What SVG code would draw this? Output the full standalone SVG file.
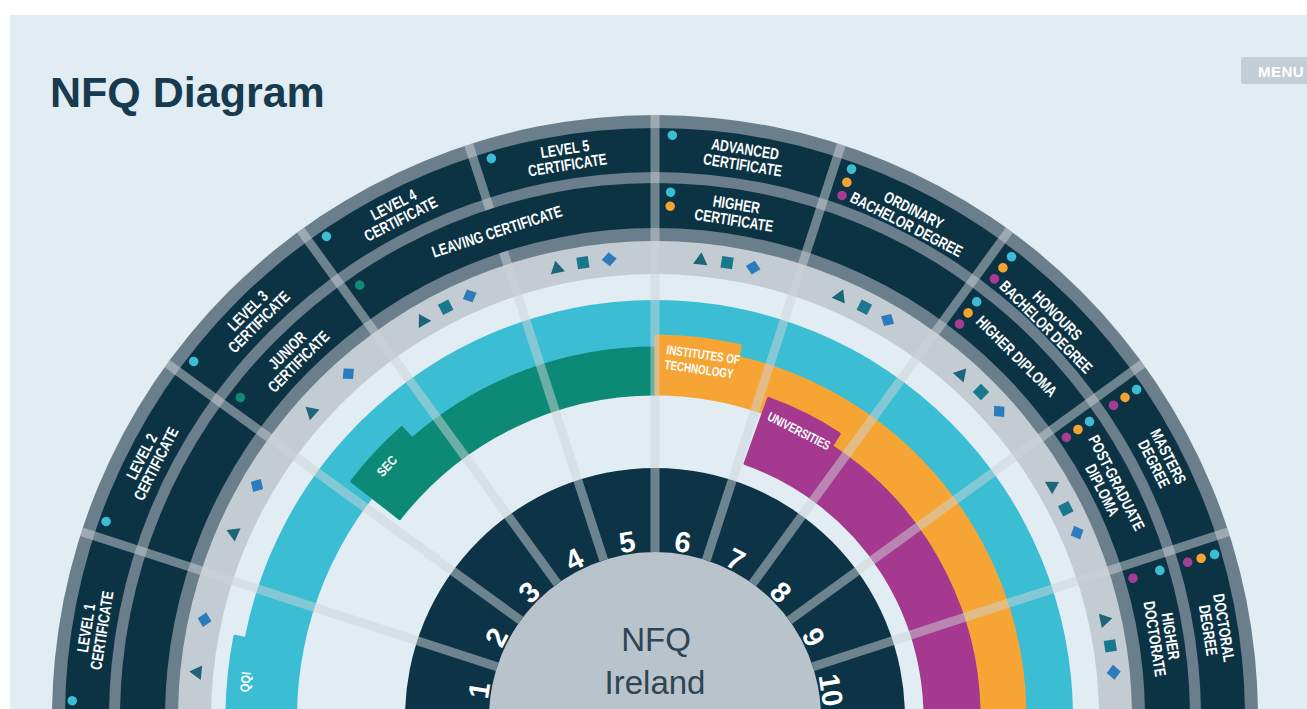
<svg xmlns="http://www.w3.org/2000/svg" width="1307" height="709" viewBox="0 0 1307 709">
<defs>
<style>
.lbl{font-family:"Liberation Sans",Arial,sans-serif;font-weight:700;font-size:16px;fill:#fff;text-anchor:middle}
.num{font-family:"Liberation Sans",Arial,sans-serif;font-weight:700;font-size:29px;fill:#fff;text-anchor:middle}
.tabt{font-family:"Liberation Sans",Arial,sans-serif;font-weight:700;font-size:13px;fill:#fff}
.dv{stroke:rgba(206,211,215,0.5);stroke-width:9;fill:none}
.c{fill:#3dbdd3}.o{fill:#f5a331}.p{fill:#a63c93}.g{fill:#138a75}
.tri{fill:#1b6678}.sq{fill:#19788e}.dia{fill:#2b7bbd}
</style>
<path id="tri" d="M0,-7 L7.2,5.2 L-7.2,5.2 Z"/>
<rect id="sq" x="-5.8" y="-5.8" width="11.6" height="11.6"/>
<path id="dia" d="M0,-7 L7.5,0 L0,7 L-7.5,0 Z"/>
</defs>
<rect width="1307" height="709" fill="#ffffff"/>
<rect x="10" y="15" width="1297" height="694" fill="#e1ecf3"/>
<text x="50" y="107" font-family="Liberation Sans, Arial, sans-serif" font-weight="700" font-size="43" fill="#173a4e">NFQ Diagram</text>
<g id="menu"><rect x="1241" y="57" width="70" height="27" rx="3" fill="#c4ced7"/><text x="1281" y="76.5" font-family="Liberation Sans, Arial, sans-serif" font-weight="700" font-size="15" letter-spacing="0.5" fill="#fff" text-anchor="middle">MENU</text></g>

<g id="rings">
<circle cx="655" cy="718" r="603" fill="#6b7e8c"/>
<circle cx="655" cy="718" r="590" fill="#0c3344"/>
<circle cx="655" cy="718" r="546" fill="#6b7e8c"/>
<circle cx="655" cy="718" r="535" fill="#0c3344"/>
<circle cx="655" cy="718" r="490" fill="#6b7e8c"/>
<circle cx="655" cy="718" r="477" fill="#c3cbd3"/>
<circle cx="655" cy="718" r="444" fill="#e1ecf3"/>
</g>
<g id="qqi">
<circle cx="655" cy="718" r="418" fill="#3bbdd4"/>
<path d="M303.6 649.7 L234.9 636.3 A428 428 0 0 0 233.5 792.3 L302.4 780.2 A358 358 0 0 1 303.6 649.7 Z" fill="#3bbdd4" stroke="#3bbdd4" stroke-width="3" stroke-linejoin="round"/>
<circle cx="655" cy="718" r="358" fill="#e1ecf3"/>
</g>
<g id="sec"><path d="M399.7 518.5 L351.8 481.3 A385 385 0 0 1 401.8 427.7 L412.2 438.8 A370 370 0 0 1 655 348 L655 394 A324 324 0 0 0 399.7 518.5 Z" fill="#0d8a76" stroke="#0d8a76" stroke-width="3" stroke-linejoin="round"/></g>
<g id="institutes"><path d="M656 394 L656 336 A382 382 0 0 1 740.2 345.8 L738.2 357.5 A370 370 0 0 1 1023.6 750.3 L977.8 746.2 A324 324 0 0 0 656 394 Z" fill="#f6a534" stroke="#f6a534" stroke-width="3" stroke-linejoin="round"/></g>
<g id="universities"><path d="M745.1 463.5 L768.5 398.5 A339 339 0 0 1 839.2 433.8 L831.5 446.3 A324 324 0 0 1 977.8 746.2 L924 741.5 A270 270 0 0 0 745.1 463.5 Z" fill="#a4398f" stroke="#a4398f" stroke-width="3" stroke-linejoin="round"/></g>
<circle id="number-ring" cx="655" cy="718" r="250" fill="#0c3446"/>

<g id="connectors">
<line class="dv" x1="821" y1="718" x2="1258" y2="718"/>
<line class="dv" x1="821" y1="718" x2="1258" y2="718" transform="rotate(-18 655 718)"/>
<line class="dv" x1="821" y1="718" x2="1258" y2="718" transform="rotate(-36 655 718)"/>
<line class="dv" x1="821" y1="718" x2="1258" y2="718" transform="rotate(-54 655 718)"/>
<line class="dv" x1="821" y1="718" x2="1258" y2="718" transform="rotate(-72 655 718)"/>
<line class="dv" x1="821" y1="718" x2="1258" y2="718" transform="rotate(-90 655 718)"/>
<line class="dv" x1="821" y1="718" x2="1145" y2="718" transform="rotate(-108 655 718)"/>
<line class="dv" x1="1190" y1="718" x2="1258" y2="718" transform="rotate(-108 655 718)"/>
<line class="dv" x1="821" y1="718" x2="1258" y2="718" transform="rotate(-126 655 718)"/>
<line class="dv" x1="821" y1="718" x2="1258" y2="718" transform="rotate(-144 655 718)"/>
<line class="dv" x1="821" y1="718" x2="1258" y2="718" transform="rotate(-162 655 718)"/>
<line class="dv" x1="821" y1="718" x2="1258" y2="718" transform="rotate(-180 655 718)"/>
</g>

<g id="nfq-ireland">
<circle cx="655" cy="718" r="166" fill="#b9c3cb"/>
<text x="656" y="651" font-family="Liberation Sans, Arial, sans-serif" font-size="33" fill="#2f4553" text-anchor="middle">NFQ</text>
<text x="655" y="694" font-family="Liberation Sans, Arial, sans-serif" font-size="33" fill="#2f4553" text-anchor="middle">Ireland</text>
</g>

<g id="numbers">
<text class="num" x="655" y="550" transform="rotate(-81 655 718)">1</text>
<text class="num" x="655" y="550" transform="rotate(-63 655 718)">2</text>
<text class="num" x="655" y="550" transform="rotate(-45 655 718)">3</text>
<text class="num" x="655" y="550" transform="rotate(-27 655 718)">4</text>
<text class="num" x="655" y="550" transform="rotate(-9 655 718)">5</text>
<text class="num" x="655" y="550" transform="rotate(9 655 718)">6</text>
<text class="num" x="655" y="550" transform="rotate(27 655 718)">7</text>
<text class="num" x="655" y="550" transform="rotate(45 655 718)">8</text>
<text class="num" x="655" y="550" transform="rotate(63 655 718)">9</text>
<text class="num" x="655" y="550" transform="rotate(81 655 718)">10</text>
</g>

<g id="shapes">
<use href="#tri" class="tri" transform="rotate(-84.3 655 718) translate(655 257)"/>
<use href="#dia" class="dia" transform="rotate(-77.7 655 718) translate(655 257)"/>
<use href="#tri" class="tri" transform="rotate(-66.3 655 718) translate(655 257)"/>
<use href="#dia" class="dia" transform="rotate(-59.7 655 718) translate(655 257)"/>
<use href="#tri" class="tri" transform="rotate(-48.3 655 718) translate(655 257)"/>
<use href="#dia" class="dia" transform="rotate(-41.7 655 718) translate(655 257)"/>
<use href="#tri" class="tri" transform="rotate(-30.3 655 718) translate(655 257)"/>
<use href="#sq" class="sq" transform="rotate(-27 655 718) translate(655 257)"/>
<use href="#dia" class="dia" transform="rotate(-23.7 655 718) translate(655 257)"/>
<use href="#tri" class="tri" transform="rotate(-12.3 655 718) translate(655 257)"/>
<use href="#sq" class="sq" transform="rotate(-9 655 718) translate(655 257)"/>
<use href="#dia" class="dia" transform="rotate(-5.7 655 718) translate(655 257)"/>
<use href="#tri" class="tri" transform="rotate(5.7 655 718) translate(655 257)"/>
<use href="#sq" class="sq" transform="rotate(9 655 718) translate(655 257)"/>
<use href="#dia" class="dia" transform="rotate(12.3 655 718) translate(655 257)"/>
<use href="#tri" class="tri" transform="rotate(23.7 655 718) translate(655 257)"/>
<use href="#sq" class="sq" transform="rotate(27 655 718) translate(655 257)"/>
<use href="#dia" class="dia" transform="rotate(30.3 655 718) translate(655 257)"/>
<use href="#tri" class="tri" transform="rotate(41.7 655 718) translate(655 257)"/>
<use href="#sq" class="sq" transform="rotate(45 655 718) translate(655 257)"/>
<use href="#dia" class="dia" transform="rotate(48.3 655 718) translate(655 257)"/>
<use href="#tri" class="tri" transform="rotate(59.7 655 718) translate(655 257)"/>
<use href="#sq" class="sq" transform="rotate(63 655 718) translate(655 257)"/>
<use href="#dia" class="dia" transform="rotate(66.3 655 718) translate(655 257)"/>
<use href="#tri" class="tri" transform="rotate(77.7 655 718) translate(655 257)"/>
<use href="#sq" class="sq" transform="rotate(81 655 718) translate(655 257)"/>
<use href="#dia" class="dia" transform="rotate(84.3 655 718) translate(655 257)"/>
</g>

<g id="level-1-certificate">
<circle class="c" cx="655" cy="135" r="4.8" transform="rotate(-88.3 655 718)"/>
<text class="lbl" transform="rotate(-81 655 718) translate(655 150) scale(0.76 1)"><tspan x="0" y="-2.5">LEVEL 1</tspan><tspan x="0" y="13.5">CERTIFICATE</tspan></text>
</g>
<g id="level-2-certificate">
<circle class="c" cx="655" cy="135" r="4.8" transform="rotate(-70.3 655 718)"/>
<text class="lbl" transform="rotate(-63 655 718) translate(655 150) scale(0.76 1)"><tspan x="0" y="-2.5">LEVEL 2</tspan><tspan x="0" y="13.5">CERTIFICATE</tspan></text>
</g>
<g id="level-3-certificate">
<circle class="c" cx="655" cy="135" r="4.8" transform="rotate(-52.3 655 718)"/>
<text class="lbl" transform="rotate(-45 655 718) translate(655 150) scale(0.76 1)"><tspan x="0" y="-2.5">LEVEL 3</tspan><tspan x="0" y="13.5">CERTIFICATE</tspan></text>
</g>
<g id="junior-certificate">
<circle class="g" cx="655" cy="194" r="4.8" transform="rotate(-52.3 655 718)"/>
<text class="lbl" transform="rotate(-45 655 718) translate(655 206) scale(0.76 1)"><tspan x="0" y="-2.5">JUNIOR</tspan><tspan x="0" y="13.5">CERTIFICATE</tspan></text>
</g>
<g id="level-4-certificate">
<circle class="c" cx="655" cy="135" r="4.8" transform="rotate(-34.3 655 718)"/>
<text class="lbl" transform="rotate(-27 655 718) translate(655 150) scale(0.76 1)"><tspan x="0" y="-2.5">LEVEL 4</tspan><tspan x="0" y="13.5">CERTIFICATE</tspan></text>
</g>
<g id="leaving-certificate">
<circle class="g" cx="655" cy="194" r="4.8" transform="rotate(-34.3 655 718)"/>
<text class="lbl" transform="rotate(-18 655 718) translate(655 206) scale(0.76 1)"><tspan x="0" y="6">LEAVING CERTIFICATE</tspan></text>
</g>
<g id="level-5-certificate">
<circle class="c" cx="655" cy="135" r="4.8" transform="rotate(-16.3 655 718)"/>
<text class="lbl" transform="rotate(-9 655 718) translate(655 150) scale(0.76 1)"><tspan x="0" y="-2.5">LEVEL 5</tspan><tspan x="0" y="13.5">CERTIFICATE</tspan></text>
</g>
<g id="advanced-certificate">
<circle class="c" cx="655" cy="135" r="4.8" transform="rotate(1.7 655 718)"/>
<text class="lbl" transform="rotate(9 655 718) translate(655 150) scale(0.76 1)"><tspan x="0" y="-2.5">ADVANCED</tspan><tspan x="0" y="13.5">CERTIFICATE</tspan></text>
</g>
<g id="higher-certificate">
<circle class="c" cx="655" cy="192" r="4.8" transform="rotate(1.7 655 718)"/>
<circle class="o" cx="655" cy="206" r="4.8" transform="rotate(1.7 655 718)"/>
<text class="lbl" transform="rotate(9 655 718) translate(655 206) scale(0.76 1)"><tspan x="0" y="-2.5">HIGHER</tspan><tspan x="0" y="13.5">CERTIFICATE</tspan></text>
</g>
<g id="ordinary-bachelor-degree">
<circle class="c" cx="655" cy="135" r="4.8" transform="rotate(19.7 655 718)"/>
<circle class="o" cx="655" cy="149" r="4.8" transform="rotate(19.7 655 718)"/>
<circle class="p" cx="655" cy="163" r="4.8" transform="rotate(19.7 655 718)"/>
<text class="lbl" transform="rotate(27 655 718) translate(655 156) scale(0.76 1)"><tspan x="0" y="-2.5">ORDINARY</tspan><tspan x="0" y="13.5">BACHELOR DEGREE</tspan></text>
</g>
<g id="honours-bachelor-degree">
<circle class="c" cx="655" cy="135" r="4.8" transform="rotate(37.7 655 718)"/>
<circle class="o" cx="655" cy="149" r="4.8" transform="rotate(37.7 655 718)"/>
<circle class="p" cx="655" cy="163" r="4.8" transform="rotate(37.7 655 718)"/>
<text class="lbl" transform="rotate(45 655 718) translate(655 157) scale(0.76 1)"><tspan x="0" y="-2.5">HONOURS</tspan><tspan x="0" y="13.5">BACHELOR DEGREE</tspan></text>
</g>
<g id="higher-diploma">
<circle class="c" cx="655" cy="192" r="4.8" transform="rotate(37.7 655 718)"/>
<circle class="o" cx="655" cy="206" r="4.8" transform="rotate(37.7 655 718)"/>
<circle class="p" cx="655" cy="220" r="4.8" transform="rotate(37.7 655 718)"/>
<text class="lbl" transform="rotate(45 655 718) translate(655 206) scale(0.76 1)"><tspan x="0" y="6">HIGHER DIPLOMA</tspan></text>
</g>
<g id="masters-degree">
<circle class="c" cx="655" cy="135" r="4.8" transform="rotate(55.7 655 718)"/>
<circle class="o" cx="655" cy="149" r="4.8" transform="rotate(55.7 655 718)"/>
<circle class="p" cx="655" cy="163" r="4.8" transform="rotate(55.7 655 718)"/>
<text class="lbl" transform="rotate(63 655 718) translate(655 150) scale(0.76 1)"><tspan x="0" y="-2.5">MASTERS</tspan><tspan x="0" y="13.5">DEGREE</tspan></text>
</g>
<g id="post-graduate-diploma">
<circle class="c" cx="655" cy="192" r="4.8" transform="rotate(55.7 655 718)"/>
<circle class="o" cx="655" cy="206" r="4.8" transform="rotate(55.7 655 718)"/>
<circle class="p" cx="655" cy="220" r="4.8" transform="rotate(55.7 655 718)"/>
<text class="lbl" transform="rotate(63 655 718) translate(655 208) scale(0.76 1)"><tspan x="0" y="-2.5">POST-GRADUATE</tspan><tspan x="0" y="13.5">DIPLOMA</tspan></text>
</g>
<g id="doctoral-degree">
<circle class="c" cx="655" cy="135" r="4.8" transform="rotate(73.7 655 718)"/>
<circle class="o" cx="655" cy="149" r="4.8" transform="rotate(73.7 655 718)"/>
<circle class="p" cx="655" cy="163" r="4.8" transform="rotate(73.7 655 718)"/>
<text class="lbl" transform="rotate(81 655 718) translate(655 150) scale(0.76 1)"><tspan x="0" y="-2.5">DOCTORAL</tspan><tspan x="0" y="13.5">DEGREE</tspan></text>
</g>
<g id="higher-doctorate">
<circle class="c" cx="655" cy="192" r="4.8" transform="rotate(73.7 655 718)"/>
<circle class="p" cx="655" cy="220" r="4.8" transform="rotate(73.7 655 718)"/>
<text class="lbl" transform="rotate(81 655 718) translate(655 204) scale(0.76 1)"><tspan x="0" y="-2.5">HIGHER</tspan><tspan x="0" y="13.5">DOCTORATE</tspan></text>
</g>

<g id="tab-labels">
<text class="tabt" font-size="11" text-anchor="middle" transform="translate(246 682) rotate(-85) scale(0.85 1)" y="4">QQI</text>
<text class="tabt" text-anchor="middle" transform="translate(387 466) rotate(-47) scale(0.85 1)" y="4.5">SEC</text>
<text class="tabt" transform="translate(666 354) rotate(8) scale(0.76 1)"><tspan x="0" y="0">INSTITUTES OF</tspan><tspan x="0" y="15">TECHNOLOGY</tspan></text>
<text class="tabt" text-anchor="middle" transform="translate(799 431) rotate(27) scale(0.76 1)" y="4.5">UNIVERSITIES</text>
</g>
</svg>
